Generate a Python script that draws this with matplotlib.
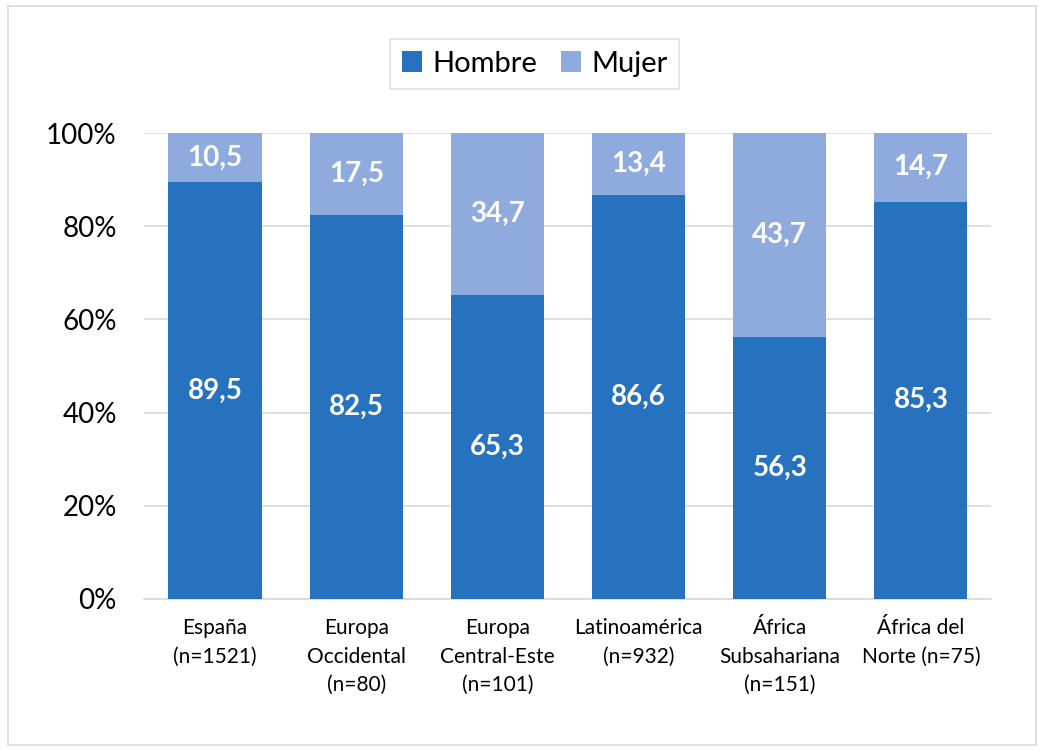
import matplotlib.pyplot as plt
from matplotlib.patches import Rectangle

plt.rcParams['font.family'] = ['Lato', 'DejaVu Sans']

categories = ["España\n(n=1521)", "Europa\nOccidental\n(n=80)", "Europa\nCentral-Este\n(n=101)",
              "Latinoamérica\n(n=932)", "África\nSubsahariana\n(n=151)", "África del\nNorte (n=75)"]
hombre = [89.5, 82.5, 65.3, 86.6, 56.3, 85.3]
mujer = [10.5, 17.5, 34.7, 13.4, 43.7, 14.7]

c_hombre = "#2672BE"
c_mujer = "#8FAADC"

fig = plt.figure(figsize=(10.44, 7.51), dpi=100)
ax = fig.add_axes([0.1384, 0.2024, 0.8113, 0.6205])

x = range(len(categories))
ax.bar(x, hombre, width=0.66, color=c_hombre, label="Hombre", zorder=3)
ax.bar(x, mujer, width=0.66, bottom=hombre, color=c_mujer, label="Mujer", zorder=3)

def fmt(v):
    return f"{v:.1f}".replace(".", ",")

for i in x:
    ax.text(i, hombre[i] / 2, fmt(hombre[i]), ha="center", va="center",
            color="white", fontsize=20, fontweight="bold", zorder=4)
    ax.text(i, hombre[i] + mujer[i] / 2, fmt(mujer[i]), ha="center", va="center",
            color="white", fontsize=20, fontweight="bold", zorder=4)

ax.set_xlim(-0.5, len(categories) - 0.5)
ax.set_ylim(0, 100)
ax.set_yticks(range(0, 101, 20))
ax.set_yticklabels([f"{v}%" for v in range(0, 101, 20)], fontsize=20)
ax.set_xticks(list(x))
ax.set_xticklabels(categories, fontsize=15, linespacing=1.52, va="top")
ax.tick_params(axis="both", length=0, colors="#000000")
ax.tick_params(axis="y", pad=20)
ax.tick_params(axis="x", pad=14)
ax.grid(axis="y", color="#D9D9D9", linewidth=1.2, zorder=0)
for s in ["top", "right", "left"]:
    ax.spines[s].set_visible(False)
ax.spines["bottom"].set_color("#D9D9D9")
ax.spines["bottom"].set_linewidth(1.2)

leg = fig.legend(loc="center", bbox_to_anchor=(0.512, 0.915), ncol=2, fontsize=21,
                 frameon=True, fancybox=False, edgecolor="#D9D9D9",
                 handlelength=0.7, handleheight=0.7, handletextpad=0.35,
                 columnspacing=0.8, borderpad=0.4)
leg.get_frame().set_linewidth(1.2)

fig.patches.append(Rectangle((0.008, 0.008), 0.984, 0.984, transform=fig.transFigure,
                             fill=False, edgecolor="#D9D9D9", linewidth=1.2))

fig.savefig("out.png", dpi=100, facecolor="white")
